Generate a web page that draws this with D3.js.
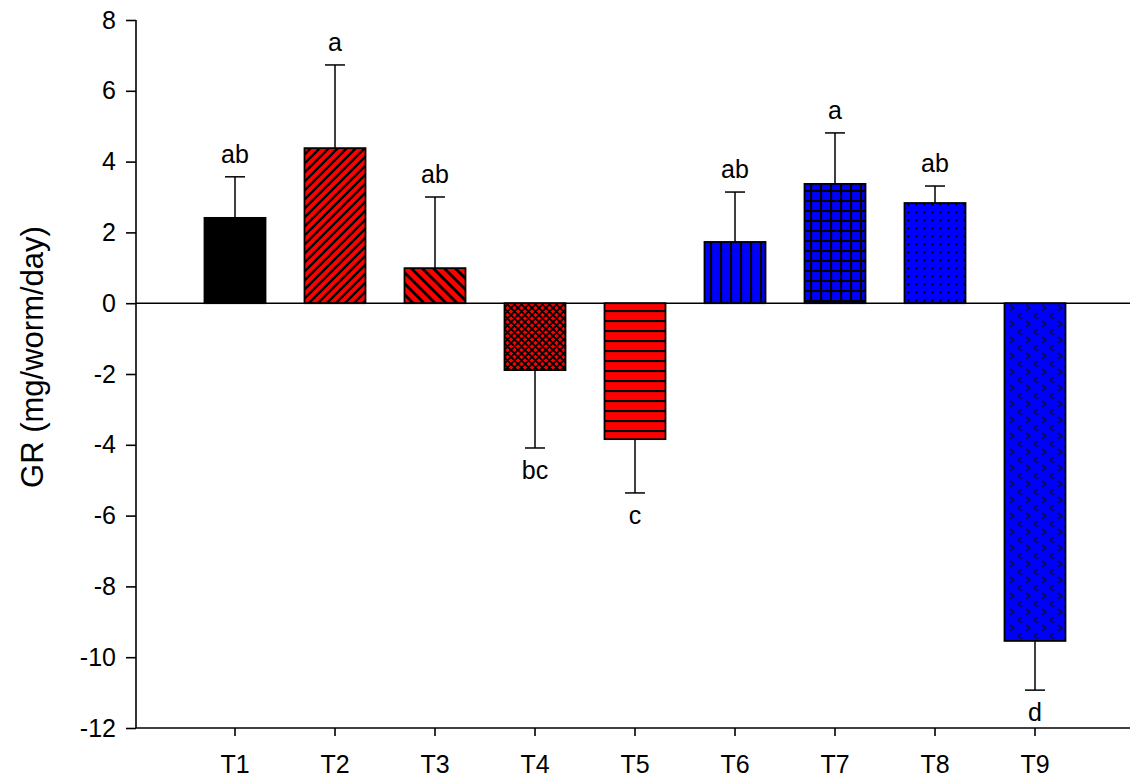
<!DOCTYPE html>
<html>
<head>
<meta charset="utf-8">
<script src="https://cdn.jsdelivr.net/npm/d3@7"></script>
<style>
  html, body { margin: 0; padding: 0; background: #fff; }
  svg { display: block; font-family: "Liberation Sans", Arial, sans-serif; }
</style>
</head>
<body>
<svg id="chart" width="1130" height="780"></svg>
<script>
// Treatments, mean growth rate, upper/lower error extent, significance letters
const categories = ["T1", "T2", "T3", "T4", "T5", "T6", "T7", "T8", "T9"];
const means = [2.41, 4.38, 0.99, -1.89, -3.84, 1.73, 3.37, 2.83, -9.54];
const errors = [1.16, 2.35, 2.01, 2.20, 1.52, 1.41, 1.44, 0.48, 1.39];
const letters = ["ab", "a", "ab", "bc", "c", "ab", "a", "ab", "d"];
const yTicks = [-12, -10, -8, -6, -4, -2, 0, 2, 4, 6, 8];
const fills = ["solid", "diagUp", "diagDown", "cross", "horiz", "vert", "grid", "dots", "chevron"];
const baseColors = ["#000000", "#ff0000", "#ff0000", "#ff0000", "#ff0000", "#0000ff", "#0000ff", "#0000ff", "#0000ff"];

const svg = d3.select("#chart");
const plot = { left: 136, right: 1134, top: 20, bottom: 728 };
const fontSize = 25;

const y = d3.scaleLinear().domain([-12, 8]).range([plot.bottom, plot.top]);
const x = d3.scaleBand().domain(categories).range([185, 1085]).paddingInner(0.39).paddingOuter(0.195);

// Hatch patterns
const defs = svg.append("defs");
function pattern(id, w, h, color, draw) {
  const p = defs.append("pattern").attr("id", id).attr("patternUnits", "userSpaceOnUse")
    .attr("width", w).attr("height", h);
  p.append("rect").attr("width", w).attr("height", h).attr("fill", color);
  draw(p);
}
pattern("diagUp", 9, 9, "#ff0000", p => p.append("path")
  .attr("d", "M-1,1 l2,-2 M0,9 l9,-9 M8,10 l2,-2").attr("stroke", "#000").attr("stroke-width", 2.4));
pattern("diagDown", 11, 11, "#ff0000", p => p.append("path")
  .attr("d", "M-1,10 l2,2 M0,0 l11,11 M10,-1 l2,2").attr("stroke", "#000").attr("stroke-width", 2.8));
pattern("cross", 7, 7, "#ff0000", p => p.append("path")
  .attr("d", "M0,0 l7,7 M0,7 l7,-7 M-1,6 l2,2 M6,-1 l2,2 M-1,1 l2,-2 M6,8 l2,-2")
  .attr("stroke", "#000").attr("stroke-width", 1.8));
pattern("horiz", 10, 10, "#ff0000", p => p.append("path")
  .attr("d", "M0,1 H10").attr("stroke", "#000").attr("stroke-width", 2.2));
pattern("vert", 10, 10, "#0000ff", p => p.append("path")
  .attr("d", "M1,0 V10").attr("stroke", "#000").attr("stroke-width", 2.2));
pattern("grid", 10, 10, "#0000ff", p => p.append("path")
  .attr("d", "M1,0 V10 M0,1 H10").attr("stroke", "#000").attr("stroke-width", 2.2));
pattern("dots", 8, 8, "#0000ff", p => p.append("rect")
  .attr("x", 3).attr("y", 3).attr("width", 2.4).attr("height", 2.4).attr("fill", "#000"));
pattern("chevron", 16, 16, "#0000ff", p => {
  p.append("path").attr("d", "M2,1 L6,4 L2,7").attr("fill", "none").attr("stroke", "#0a0a60").attr("stroke-width", 2);
  p.append("path").attr("d", "M14,9 L10,12 L14,15").attr("fill", "none").attr("stroke", "#0a0a60").attr("stroke-width", 2);
});

const data = categories.map((c, i) => ({
  cat: c, mean: means[i], err: errors[i], letter: letters[i], fill: fills[i], color: baseColors[i]
}));

// Error bars (only on the outward side)
const eb = svg.append("g").attr("stroke", "#000").attr("stroke-width", 1.5);
data.forEach(d => {
  const cx = x(d.cat) + x.bandwidth() / 2;
  const end = d.mean >= 0 ? d.mean + d.err : d.mean - d.err;
  eb.append("line").attr("x1", cx).attr("x2", cx).attr("y1", y(d.mean)).attr("y2", y(end));
  eb.append("line").attr("x1", cx - 10).attr("x2", cx + 10).attr("y1", y(end)).attr("y2", y(end));
});

// Bars
svg.append("g").selectAll("rect").data(data).join("rect")
  .attr("x", d => x(d.cat))
  .attr("width", x.bandwidth())
  .attr("y", d => y(Math.max(0, d.mean)))
  .attr("height", d => Math.abs(y(d.mean) - y(0)))
  .attr("fill", d => d.fill === "solid" ? d.color : `url(#${d.fill})`)
  .attr("stroke", "#000")
  .attr("stroke-width", 1.8);

// Zero reference line
svg.append("line").attr("x1", plot.left).attr("x2", plot.right)
  .attr("y1", y(0)).attr("y2", y(0)).attr("stroke", "#000").attr("stroke-width", 1.6);

// Significance letters
svg.append("g").selectAll("text").data(data).join("text")
  .attr("x", d => x(d.cat) + x.bandwidth() / 2)
  .attr("y", d => d.mean >= 0 ? y(d.mean + d.err) - 14 : y(d.mean - d.err) + 31)
  .attr("text-anchor", "middle")
  .attr("font-size", fontSize)
  .text(d => d.letter);

// Y axis
const yAxis = svg.append("g").attr("transform", `translate(${plot.left},0)`)
  .call(d3.axisLeft(y).tickValues(yTicks).tickSize(10).tickPadding(10));
yAxis.select(".domain").attr("stroke-width", 1.6).attr("d", `M0,${plot.top}V${plot.bottom}`);
yAxis.selectAll(".tick line").attr("stroke-width", 1.6);
yAxis.selectAll(".tick text").attr("font-size", fontSize).attr("font-family", "Liberation Sans, Arial, sans-serif")
  .text(d => d < 0 ? "-" + Math.abs(d) : d);

// X axis
const xAxis = svg.append("g").attr("transform", `translate(0,${plot.bottom})`)
  .call(d3.axisBottom(x).tickSize(8).tickPadding(19));
xAxis.select(".domain").attr("stroke-width", 1.6).attr("d", `M${plot.left},0H${plot.right}`);
xAxis.selectAll(".tick line").attr("stroke-width", 1.6);
xAxis.selectAll(".tick text").attr("font-size", fontSize).attr("font-family", "Liberation Sans, Arial, sans-serif");

// Y axis title
svg.append("text")
  .attr("transform", `translate(43,357) rotate(-90)`)
  .attr("text-anchor", "middle")
  .attr("font-size", 31)
  .text("GR (mg/worm/day)");
</script>
</body>
</html>
